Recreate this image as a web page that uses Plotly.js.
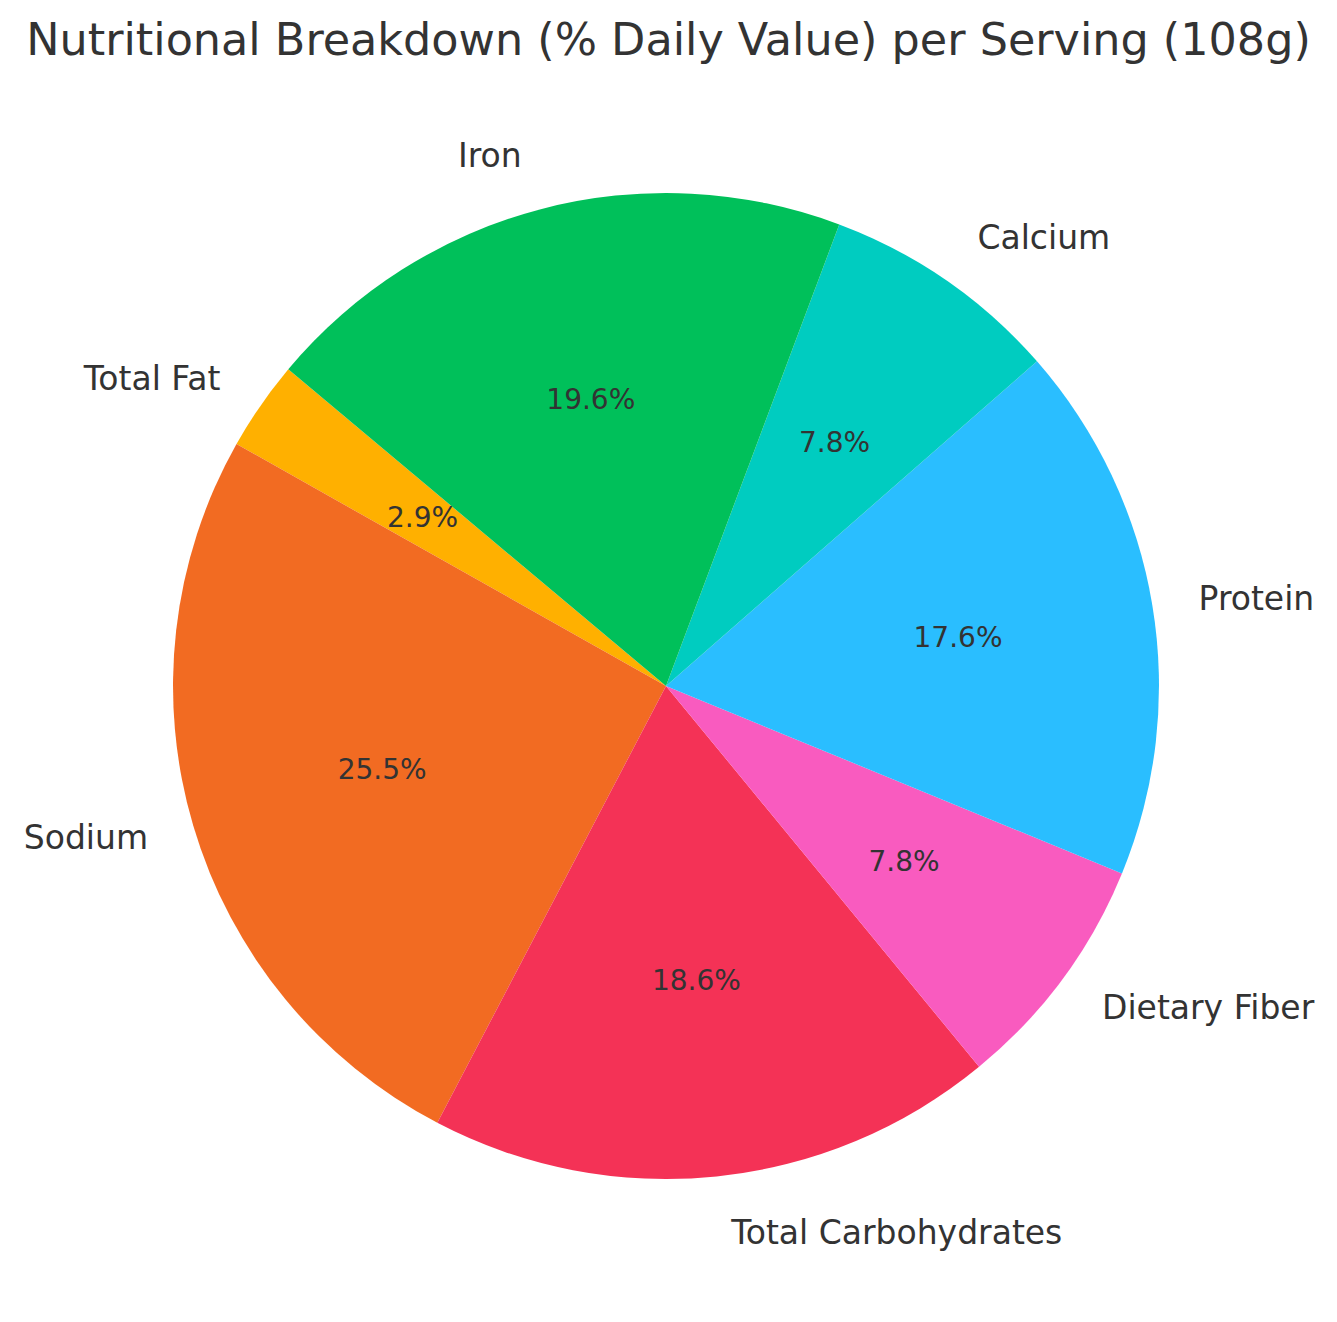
<!DOCTYPE html>
<html>
<head>
<meta charset="utf-8">
<script src="https://cdn.plot.ly/plotly-3.0.1.min.js"></script>
<style>
  html, body { margin: 0; padding: 0; background: #fff; }
  #plot { width: 1337px; height: 1322px; }
</style>
</head>
<body>
<div id="plot"></div>
<script>
// % daily value per serving, order as drawn counterclockwise from Total Fat
const nutrients = ['Total Fat', 'Sodium', 'Total Carbohydrates', 'Dietary Fiber', 'Protein', 'Calcium', 'Iron'];
const dailyValue = [3, 26, 19, 8, 18, 8, 20];
const sliceColors = ['#FFB000', '#F26B22', '#F43256', '#F95BBF', '#2ABEFF', '#00CCC0', '#00C05A'];

const textColor = '#333333';
const fontFamily = 'DejaVu Sans, sans-serif';
const startRotation = -60.6;
const clear = nutrients.map(() => 'rgba(0,0,0,0)');

// narrow slices and wide slices need differently shaped rings to keep
// the percentage at ~0.6 of the radius on the slice's middle angle
const total = dailyValue.reduce((a, b) => a + b, 0);
const isNarrow = dailyValue.map(v => v / total < 0.1);
const pctFmt = '%{percent:.1%}';

// coloured slices, no text
var slices = {
    type: 'pie',
    labels: nutrients,
    values: dailyValue,
    sort: false,
    direction: 'counterclockwise',
    rotation: startRotation,
    domain: { x: [0.0645, 0.9355], y: [0.0452, 0.9548] },
    marker: { colors: sliceColors, line: { width: 0 } },
    textinfo: 'none',
    hoverinfo: 'label+percent',
    showlegend: false
};

function percentRing(hole, domain, shown) {
    return {
        type: 'pie',
        labels: nutrients,
        values: dailyValue,
        sort: false,
        direction: 'counterclockwise',
        rotation: startRotation,
        hole: hole,
        domain: domain,
        marker: { colors: clear, line: { width: 0 } },
        texttemplate: shown.map(s => s ? pctFmt : ''),
        textposition: 'inside',
        insidetextorientation: 'horizontal',
        insidetextfont: { family: fontFamily, size: 28, color: textColor },
        hoverinfo: 'skip',
        showlegend: false
    };
}

var pctNarrow = percentRing(0.9, { x: [0.2247, 0.7753], y: [0.2125, 0.7875] }, isNarrow);
var pctWide = percentRing(0.68, { x: [0.1887, 0.8113], y: [0.1749, 0.8251] }, isNarrow.map(n => !n));

// slightly larger transparent pie carrying the outside labels
var names = {
    type: 'pie',
    labels: nutrients,
    values: dailyValue,
    sort: false,
    direction: 'counterclockwise',
    rotation: startRotation,
    domain: { x: [0.0318, 0.9682], y: [0.0111, 0.9889] },
    marker: { colors: clear, line: { width: 0 } },
    textinfo: 'label',
    textposition: 'outside',
    outsidetextfont: { family: fontFamily, size: 33, color: textColor },
    hoverinfo: 'skip',
    showlegend: false
};

const layout = {
    title: {
        text: 'Nutritional Breakdown (% Daily Value) per Serving (108g)',
        font: { family: fontFamily, size: 44.5, color: textColor },
        x: 0.5,
        xanchor: 'center',
        y: 0.97,
        yanchor: 'middle'
    },
    width: 1337,
    height: 1322,
    margin: { l: 100, r: 105, t: 144, b: 94 },
    paper_bgcolor: '#ffffff',
    uniformtext: { mode: 'show', minsize: 28 },
    showlegend: false
};

Plotly.newPlot('plot', [slices, pctNarrow, pctWide, names], layout, { displayModeBar: false });
</script>
</body>
</html>
